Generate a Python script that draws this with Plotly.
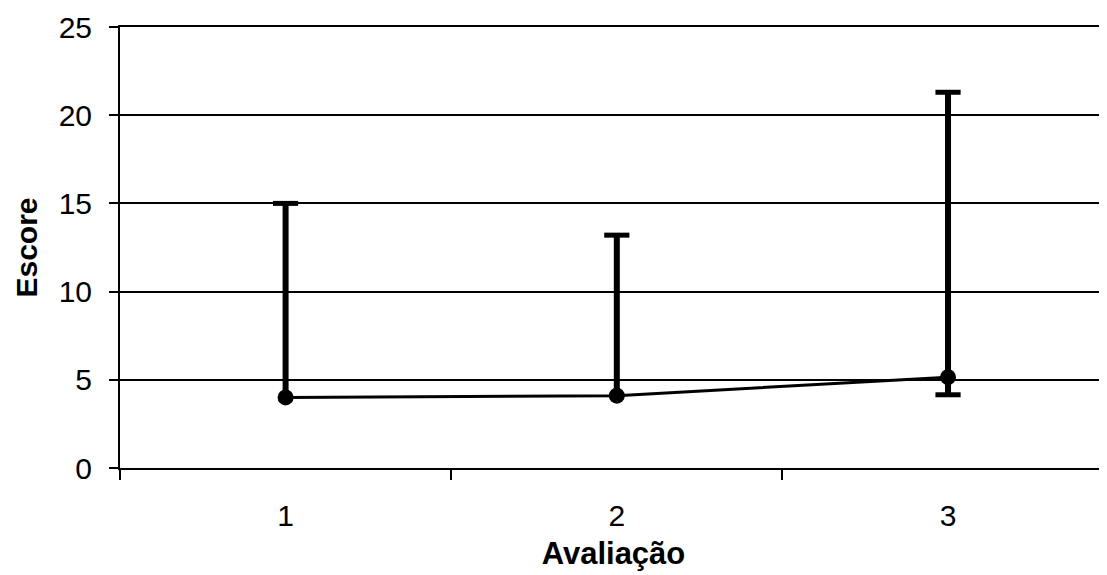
import plotly.graph_objects as go

avaliacao = [1, 2, 3]
escore = [4.0, 4.1, 5.15]
upper = [15.0, 13.2, 21.3]
lower = [4.0, 4.1, 4.15]
y_ticks = [0, 5, 10, 15, 20, 25]

fig = go.Figure()

# whiskers
wx, wy = [], []
for x, lo, hi in zip(avaliacao, lower, upper):
    wx += [x, x, None]
    wy += [lo, hi, None]
fig.add_trace(go.Scatter(x=wx, y=wy, mode="lines",
                         line=dict(color="black", width=6), hoverinfo="skip"))

# caps (upper always, lower only when below the point)
cx, cy = [], []
for x, v, lo, hi in zip(avaliacao, escore, lower, upper):
    cx.append(x); cy.append(hi)
    if lo < v:
        cx.append(x); cy.append(lo)
fig.add_trace(go.Scatter(x=cx, y=cy, mode="markers",
                         marker=dict(symbol="line-ew", size=18,
                                     line=dict(color="black", width=5)),
                         hoverinfo="skip"))

# main line
fig.add_trace(go.Scatter(x=avaliacao, y=escore, mode="lines+markers",
                         line=dict(color="black", width=3),
                         marker=dict(symbol="circle", size=16, color="black")))

fig.update_layout(
    width=1099, height=567,
    margin=dict(l=112, r=0, t=19, b=107),
    paper_bgcolor="white", plot_bgcolor="white",
    showlegend=False,
    font=dict(family="Liberation Sans, Arial, sans-serif", color="black", size=30),
)
fig.update_xaxes(
    range=[0.5, 3.48], tickvals=avaliacao, ticktext=[str(a) for a in avaliacao],
    ticks="", ticklabelstandoff=20, showgrid=False, zeroline=False,
    tickfont=dict(size=30),
    showline=True, linecolor="black", linewidth=2, mirror=True,
    minor=dict(tickvals=[0.5, 1.5, 2.5], ticks="outside", ticklen=10,
               tickcolor="black", tickwidth=1.5, showgrid=False),
    title=dict(text="<b>Avaliação</b>", font=dict(size=31), standoff=11),
)
fig.update_yaxes(
    range=[0, 25], tickvals=y_ticks, ticks="outside", ticklen=9,
    tickcolor="black", tickwidth=1.5, ticklabelstandoff=11,
    tickfont=dict(size=30),
    showgrid=True, gridcolor="black", gridwidth=1.5, zeroline=False,
    showline=True, linecolor="black", linewidth=2,
    title=dict(text="<b>Escore</b>", font=dict(size=30), standoff=12),
)

fig.write_html("out.html")
